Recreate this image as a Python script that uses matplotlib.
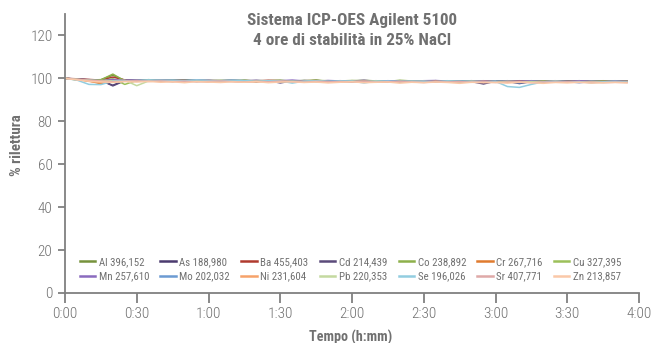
import numpy as np
import matplotlib
matplotlib.use("Agg")
import matplotlib.pyplot as plt
from matplotlib import font_manager

names = {f.name for f in font_manager.fontManager.ttflist}
FONT = None
for cand in ["Roboto Condensed", "Archivo Narrow", "Barlow Semi Condensed", "Fira Sans Condensed"]:
    if cand in names:
        FONT = cand
        break
if FONT is None:
    plt.rcParams["font.stretch"] = "condensed"
    FONT = "DejaVu Sans"
plt.rcParams["font.family"] = [FONT, "DejaVu Sans"]

step_min = 5
labels = ["Al 396,152", "As 188,980", "Ba 455,403", "Cd 214,439", "Co 238,892", "Cr 267,716", "Cu 327,395",
          "Mn 257,610", "Mo 202,032", "Ni 231,604", "Pb 220,353", "Se 196,026", "Sr 407,771", "Zn 213,857"]

Al = [100,99.6,99.2,99.4,101.5,99.0,99.3,99.2,99.0,99.1,99.3,99.2,98.9,99.0,99.1,98.8,99.0,98.9,99.1,98.7,98.8,99.0,98.9,98.7,98.9,99.1,98.8,98.6,98.9,98.7,98.8,98.9,98.6,98.8,98.7,98.5,98.8,98.9,98.6,98.7,98.8,98.6,98.7,98.9,98.5,98.7,98.6,98.4]
As = [100,99.7,99.3,99.0,96.8,99.1,98.9,99.2,99.0,98.8,99.1,98.9,99.0,98.7,98.9,99.0,98.6,98.8,98.9,98.7,99.0,98.8,98.5,98.7,98.9,98.6,98.8,98.7,98.4,98.8,98.6,98.9,98.5,98.7,98.6,98.8,98.3,98.6,97.6,98.5,98.7,98.4,98.6,98.5,98.7,98.3,98.5,98.4]
Ba = [100,99.8,99.5,99.2,100.6,99.3,99.0,99.1,98.9,99.2,99.0,98.8,99.1,98.9,98.7,99.0,98.8,99.1,98.9,98.6,98.9,99.0,98.7,98.9,98.8,98.6,98.9,98.7,98.9,98.8,98.6,98.9,98.7,98.8,98.9,98.7,98.8,98.6,98.9,98.7,98.8,98.9,98.7,98.8,98.6,98.9,98.7,98.8]
Cd = [100,99.5,99.4,99.1,96.5,98.9,99.2,98.8,99.0,99.3,98.9,99.1,98.7,98.9,99.2,98.8,98.6,98.9,97.9,98.8,98.7,99.0,98.6,98.9,98.5,98.8,98.7,98.9,98.6,98.4,98.9,98.7,98.6,98.8,98.5,97.4,98.7,98.5,98.8,98.6,98.4,98.7,98.5,98.8,98.3,98.6,98.7,98.5]
Co = [100,99.4,98.9,99.3,102.0,98.8,99.0,99.4,98.9,99.1,98.8,99.2,98.9,99.0,98.7,99.1,98.8,98.9,99.0,98.7,98.9,99.2,98.6,98.8,99.0,98.7,98.9,98.6,99.1,98.8,98.7,98.9,98.5,98.8,98.9,98.6,98.8,98.7,98.5,98.9,98.7,98.8,98.6,98.9,98.7,98.8,98.6,98.5]
Cr = [100,99.6,98.8,97.5,98.6,99.0,98.7,99.1,98.8,98.9,99.0,98.6,98.8,98.5,98.9,98.7,98.4,98.8,98.6,98.9,98.5,98.7,98.8,98.4,98.6,98.9,98.3,98.7,98.5,98.8,98.6,98.4,98.7,98.5,98.3,98.8,98.6,98.4,98.7,98.5,98.3,98.6,98.4,98.7,98.2,98.5,98.6,98.4]
Cu = [100,99.3,99.1,98.8,99.8,97.2,99.0,98.7,99.1,98.9,98.7,99.0,98.8,98.6,98.9,99.1,98.7,98.9,98.6,98.8,99.0,98.5,98.8,98.7,98.9,98.6,98.8,98.5,98.9,98.7,98.6,98.8,98.9,98.5,98.7,98.8,98.6,98.9,98.4,98.7,98.8,98.6,98.5,98.8,98.7,98.6,98.9,98.7]
Mn = [100,99.7,99.2,98.9,99.5,99.1,99.3,98.9,99.2,99.0,98.8,99.3,99.0,98.7,99.0,98.9,99.1,98.7,98.9,99.2,98.8,98.6,99.0,98.8,98.7,99.1,98.6,98.9,98.8,98.6,98.9,99.0,98.7,98.5,98.8,98.9,98.6,98.8,98.7,98.9,98.5,98.8,98.6,98.9,98.7,98.5,98.8,98.6]
Mo = [100,99.4,99.0,98.7,98.3,99.0,98.8,99.1,98.9,98.6,99.0,98.8,98.6,98.9,98.7,98.5,98.8,98.6,98.9,98.7,98.4,98.8,98.6,98.9,98.5,98.7,98.8,98.4,98.7,98.6,98.3,98.7,98.5,98.8,98.6,98.4,98.7,98.5,97.9,98.6,98.4,98.7,98.5,98.0,98.6,98.4,98.5,98.3]
Ni = [100,99.5,98.6,98.0,98.9,98.7,99.0,98.6,98.8,98.5,98.9,98.7,98.4,98.8,98.6,98.3,98.7,98.5,98.8,98.4,98.6,98.7,98.3,98.6,98.5,98.7,98.4,98.2,98.6,98.5,98.3,98.7,98.4,98.5,98.2,98.6,98.4,98.3,98.5,98.2,98.4,98.6,98.3,98.5,98.1,98.4,98.3,98.2]
Pb = [100,99.6,99.2,99.0,98.9,99.1,96.6,98.8,99.0,98.7,98.9,98.6,98.8,98.5,98.7,98.9,98.6,98.8,98.4,98.7,98.5,98.8,98.6,98.3,98.7,98.5,98.8,98.4,98.6,98.5,98.7,98.3,98.6,98.4,98.7,98.5,98.2,98.6,98.4,98.5,98.3,98.6,98.4,98.2,98.5,98.3,98.4,98.2]
Se = [100,99.2,97.2,97.1,98.7,98.9,99.0,99.3,99.1,99.2,99.0,99.3,99.1,98.9,99.2,99.0,98.6,98.9,98.8,97.8,98.7,98.9,98.5,98.8,98.7,97.9,98.6,98.8,98.5,98.7,98.6,98.4,98.8,98.6,98.5,98.3,98.6,96.2,95.8,97.2,98.4,98.6,98.3,98.5,97.9,98.4,98.6,98.3]
Sr = [100,99.5,99.1,98.8,98.5,98.7,98.9,98.6,98.8,98.5,98.7,98.4,98.6,98.8,98.5,98.3,98.6,98.4,98.7,98.5,98.2,98.6,98.4,98.5,98.3,98.6,98.2,98.4,98.5,98.3,98.1,98.4,98.3,98.5,98.2,98.4,98.1,98.3,98.4,98.0,98.3,98.2,98.4,98.1,98.3,98.0,98.2,98.1]
Zn = [100,99.3,98.7,98.4,98.1,98.5,98.3,98.6,98.2,98.4,98.0,98.5,98.3,98.1,98.4,98.2,98.5,98.0,98.3,98.4,98.1,98.3,97.9,98.2,98.4,98.0,98.2,98.3,97.8,98.2,98.0,98.3,98.1,97.7,98.2,98.0,98.1,97.8,98.2,98.0,97.7,98.1,97.9,98.2,97.8,98.0,98.1,97.9]

series = [Al, As, Ba, Cd, Co, Cr, Cu, Mn, Mo, Ni, Pb, Se, Sr, Zn]
colors = ["#76923C", "#4B3B6F", "#B03A2E", "#5B4A7A", "#8DB04A", "#E07B2E", "#9CC05A",
          "#8A6BBE", "#6C9BD2", "#F6A26A", "#C4D9A0", "#92CDE0", "#DFA9A8", "#FAC8A8"]

xticks = [0, 30, 60, 90, 120, 150, 180, 210, 240]
xticklabels = ["0:00", "0:30", "1:00", "1:30", "2:00", "2:30", "3:00", "3:30", "4:00"]
yticks = [0, 20, 40, 60, 80, 100, 120]

title = "Sistema ICP-OES Agilent 5100\n4 ore di stabilità in 25% NaCl"
xlabel = "Tempo (h:mm)"
ylabel = "% rilettura"

GRAY = "#808080"
TXT = "#707070"

fig = plt.figure(figsize=(6.51, 3.43), dpi=100)
ax = fig.add_axes([65/651, 50/343, (639-65)/651, (293-14)/343])

handles = []
for s, c, lab in zip(series, colors, labels):
    t = np.arange(len(s)) * step_min
    h, = ax.plot(t, s, color=c, lw=1.1, label=lab)
    handles.append(h)

ax.set_xlim(0, 240)
ax.set_ylim(0, 130)
ax.set_xticks(xticks)
ax.set_xticklabels(xticklabels)
ax.set_yticks(yticks)
for sp in ["top", "right"]:
    ax.spines[sp].set_visible(False)
for sp in ["left", "bottom"]:
    ax.spines[sp].set_color(GRAY)
    ax.spines[sp].set_linewidth(1.3)
ax.tick_params(axis="x", colors=GRAY, labelcolor=TXT, labelsize=11, length=7, width=1.3, pad=3)
ax.tick_params(axis="y", colors=GRAY, labelcolor=TXT, labelsize=11, length=5, width=1.3, pad=4)
for lbl in ax.get_xticklabels() + ax.get_yticklabels():
    lbl.set_fontweight("light")

fig.text(351/651, 1 - 337/343, xlabel, ha="center", va="center", fontsize=10.2,
         fontweight="bold", color=TXT)
fig.text(17/651, 1 - 145/343, ylabel, ha="center", va="center", rotation=90,
         fontsize=10.8, fontweight="bold", color=TXT)
fig.text(352/651, 1 - 13/343, title, ha="center", va="top", fontsize=12.3, fontweight="bold",
         color=TXT, linespacing=1.4)

order = []
for i in range(7):
    order += [i, i + 7]
leg = ax.legend([handles[i] for i in order], [labels[i] for i in order], ncol=7,
                loc="lower left", bbox_to_anchor=(0.018, 0.025), frameon=False,
                fontsize=7.8, handlelength=1.4, handletextpad=0.35, columnspacing=1.05,
                labelspacing=0.42, borderaxespad=0)
for t in leg.get_texts():
    t.set_color(TXT)
for l in leg.get_lines():
    l.set_linewidth(1.8)

fig.savefig("out.png", dpi=100)
